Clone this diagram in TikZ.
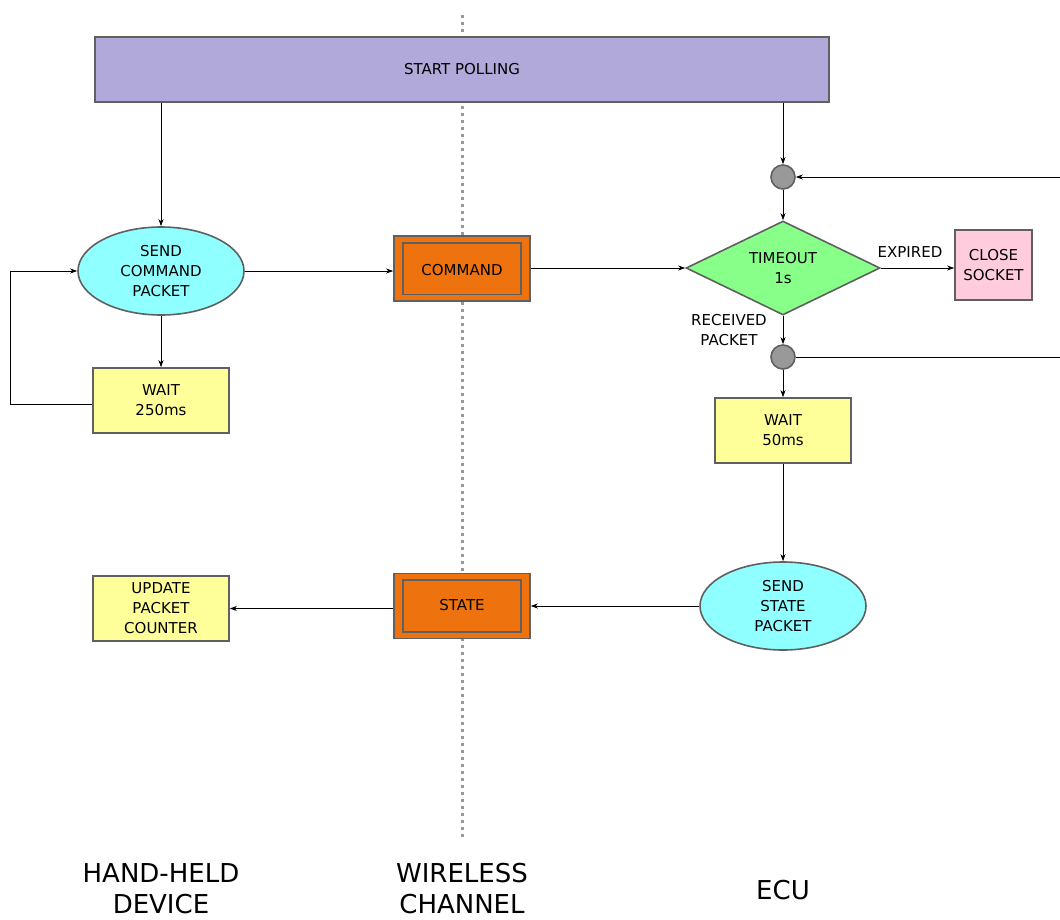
\documentclass[tikz,border=0pt]{standalone}
\usepackage{fontspec}
\setmainfont{DejaVu Sans}
\usetikzlibrary{shapes.geometric,arrows.meta}
\definecolor{cpurple}{HTML}{B0A9D9}
\definecolor{ccyan}{HTML}{90FFFF}
\definecolor{cyellow}{HTML}{FFFF99}
\definecolor{corange}{HTML}{EE720E}
\definecolor{cgreen}{HTML}{88FF88}
\definecolor{cpink}{HTML}{FFCCDD}
\definecolor{cgrayc}{HTML}{999999}
\definecolor{cborder}{HTML}{606060}
\tikzset{
  base/.style={draw=cborder, line width=1.6pt, inner sep=0pt, align=center, font=\fontsize{15}{20}\selectfont},
  boxy/.style={base, rectangle, fill=cyellow, minimum width=136pt, minimum height=65pt},
  proc/.style={base, ellipse, fill=ccyan, minimum width=166pt, minimum height=88pt},
  msg/.style={base, rectangle, fill=corange, minimum width=136pt, minimum height=65pt},
  dec/.style={base, diamond, fill=cgreen, minimum width=194pt, minimum height=94pt, aspect=2},
  junc/.style={base, circle, fill=cgrayc, minimum size=24pt},
  arr/.style={draw=black, line width=0.9pt, -{Stealth[length=7pt,width=5pt,inset=2pt]}},
  ln/.style={draw=black, line width=0.9pt},
  lbl/.style={inner sep=0pt, align=center, font=\fontsize{15}{20}\selectfont},
  big/.style={inner sep=0pt, align=center, font=\fontsize{26}{31}\selectfont},
}
\begin{document}
\begin{tikzpicture}[x=1pt,y=-1pt]
\useasboundingbox (0,0) rectangle (1060,920);
% dotted channel line
\coordinate (dtop) at (462,15);
\coordinate (dbot) at (462,840);
\draw[cgrayc, line width=3pt, dash pattern=on 3pt off 4pt] (dtop) -- (dbot);
% nodes
\node[base, rectangle, fill=cpurple, minimum width=734pt, minimum height=65pt] (start) at (462,69.5) {START POLLING};
\node[proc] (send) at (161,271) {SEND\\COMMAND\\PACKET};
\node[boxy] (wait1) at (161,400.5) {WAIT\\250ms};
\node[msg] (cmd) at (462,268.5) {};
\draw[cborder, line width=1.6pt] ([shift={(10pt,-7.5pt)}]cmd.north west) rectangle ([shift={(-10pt,7.5pt)}]cmd.south east);
\node[lbl] (cmdt) at ([yshift=-1.5pt]cmd.center) {COMMAND};
\node[junc] (c1) at (783,177) {};
\node[dec] (dec) at (783,268) {TIMEOUT\\1s};
\node[base, rectangle, fill=cpink, minimum width=77pt, minimum height=70pt] (close) at (993.5,265) {CLOSE\\SOCKET};
\node[junc] (c2) at (783,357) {};
\node[boxy] (wait2) at (783,430.5) {WAIT\\50ms};
\node[proc] (sendst) at (783,606) {SEND\\STATE\\PACKET};
\node[msg] (st) at (462,606) {};
\draw[cborder, line width=1.6pt] ([shift={(10pt,-7.5pt)}]st.north west) rectangle ([shift={(-10pt,7.5pt)}]st.south east);
\node[lbl] (stt) at ([yshift=1pt]st.center) {STATE};
\node[boxy] (upd) at (161,608.5) {UPDATE\\PACKET\\COUNTER};
% labels
\node[lbl] (lexp) at (910,252) {EXPIRED};
\node[lbl] (lrec) at (729,330.5) {RECEIVED\\PACKET};
\node[big] (lhh) at (161,889) {HAND-HELD\\DEVICE};
\node[big] (lwc) at (462,889) {WIRELESS\\CHANNEL};
\node[big] (lecu) at (783,890) {ECU};
% connectors
\coordinate (r1) at (1060,177);
\coordinate (r2) at (1060,357);
\coordinate (lp) at (10,404);
\draw[arr] (start.south -| send.north) -- (send.north);
\draw[arr] (start.south -| c1.north) -- (c1.north);
\draw[arr] (send.south) -- (wait1.north);
\draw[arr] (wait1.west |- lp) -- (lp) |- (send.west);
\draw[arr] (send.east) -- (send.east -| cmd.west);
\draw[arr] (cmd.east |- dec.west) -- (dec.west);
\draw[arr] (r1) -- (c1.east);
\draw[arr] (c1.south) -- (dec.north);
\draw[arr] (dec.east) -- (dec.east -| close.west);
\draw[arr] (dec.south) -- (c2.north);
\draw[ln] (c2.east) -- (r2);
\draw[arr] (c2.south) -- (wait2.north);
\draw[arr] (wait2.south) -- (sendst.north);
\draw[arr] (sendst.west) -- (st.east);
\draw[arr] (st.west |- upd.east) -- (upd.east);
\end{tikzpicture}
\end{document}
